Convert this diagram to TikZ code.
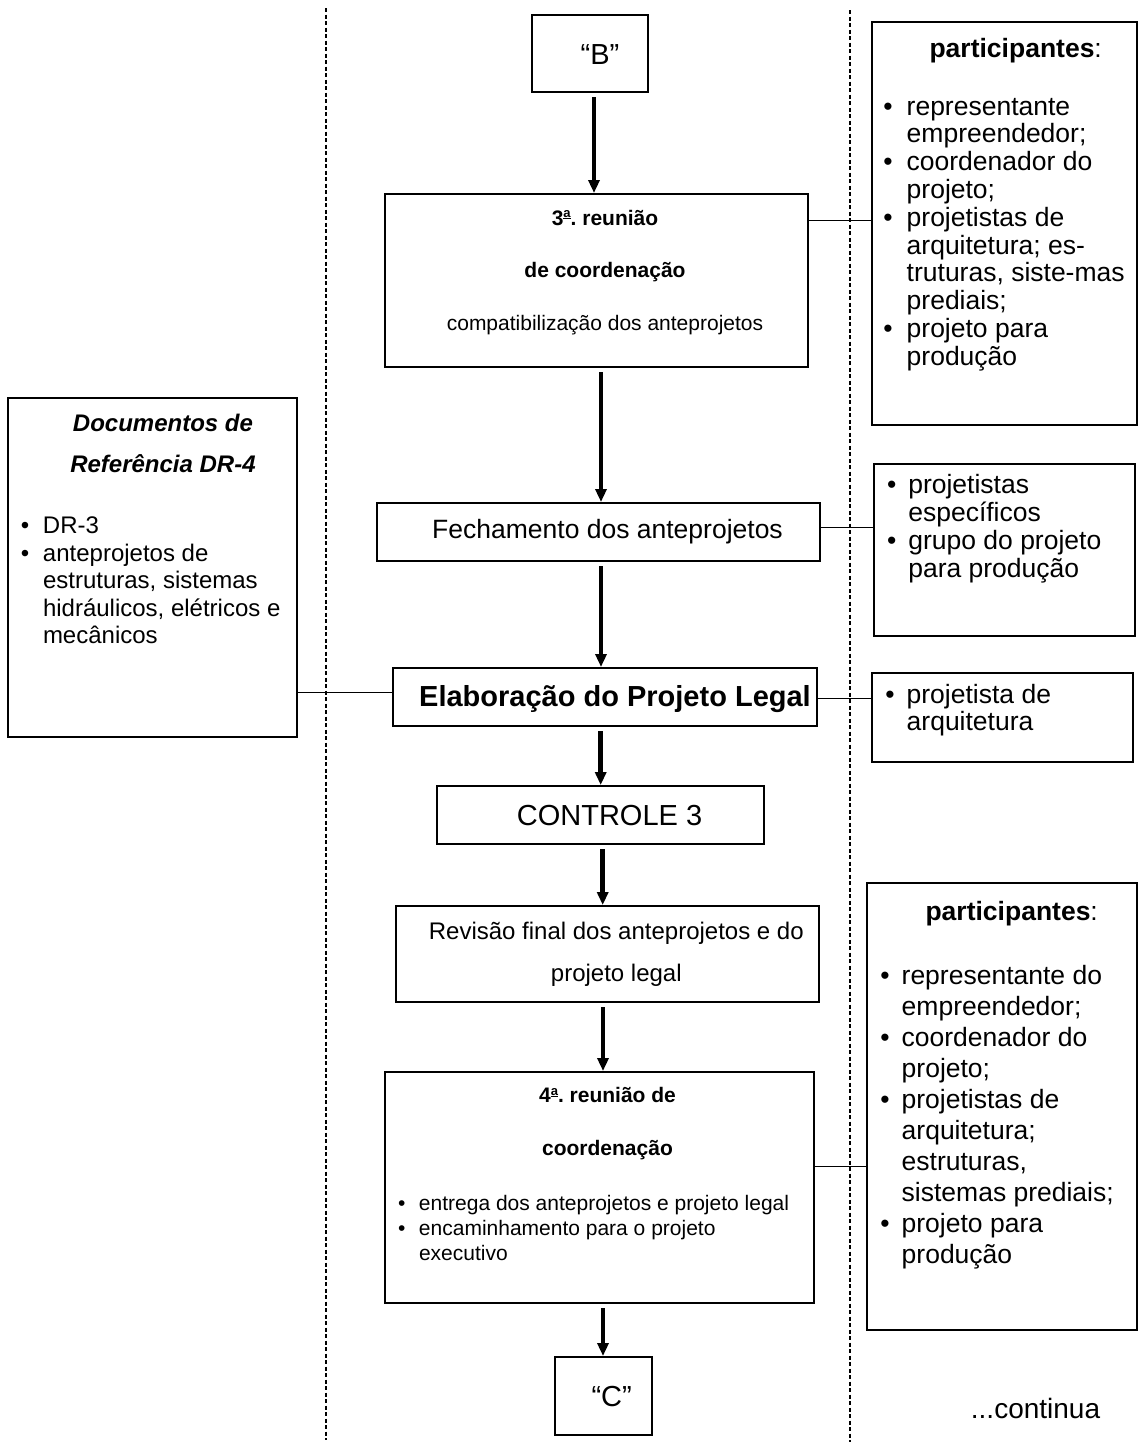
\documentclass[tikz,border=0pt]{standalone}
\usepackage{fontspec}
\usepackage{graphicx}
\setmainfont{Liberation Sans}
\usetikzlibrary{arrows.meta,fit}
\newcommand{\fsz}[2]{\fontsize{#1}{#2}\selectfont}
% raised, underlined ordinal "a"
\newcommand{\ordfem}{\raisebox{0.36em}{\scalebox{0.62}{\underline{a}}}}

\begin{document}
\frenchspacing
\begin{tikzpicture}[x=1pt,y=-1pt,
  box/.style={draw, line width=2pt, inner sep=0pt, rectangle},
  txt/.style={inner sep=0pt, outer sep=0pt},
  flow/.style={line width=4.6pt, -{Triangle[width=11pt,length=13pt]}, shorten <=4pt},
  link/.style={line width=1.5pt},
  guide/.style={line width=1.5pt, dash pattern=on 4pt off 2.5pt}]

\useasboundingbox (0,0) rectangle (1139,1444);

% column separators
\draw[guide] (326,8) -- (326,1440);
\draw[guide] (850,10) -- (850,1442);

% frames
\node[box, fit={(532,15) (648,92)}] (nB) {};
\node[box, fit={(385,194) (808,367)}] (n3) {};
\node[box, fit={(377,503) (820,561)}] (nF) {};
\node[box, fit={(393,668) (817,726)}] (nE) {};
\node[box, fit={(437,786) (764,844)}] (nK) {};
\node[box, fit={(396,906) (819,1002)}] (nR) {};
\node[box, fit={(385,1072) (814,1303)}] (n4) {};
\node[box, fit={(555,1357) (652,1435)}] (nC) {};
\node[box, fit={(8,398) (297,737)}] (dR) {};
\node[box, fit={(872,22) (1137,425)}] (p1) {};
\node[box, fit={(874,464) (1135,636)}] (p2) {};
\node[box, fit={(872,673) (1133,762)}] (p3) {};
\node[box, fit={(867,883) (1137,1330)}] (p4) {};

% central flow texts
\node[txt, anchor=base] (nBt) at (600,64) {\fsz{29}{30}“B”};
\node[txt, anchor=base] (n3t) at (605,225) {\fsz{21}{52.5}\begin{tabular}[t]{@{}c@{}}\textbf{3\ordfem. reunião}\\ \textbf{de coordenação}\\ compatibilização dos anteprojetos\end{tabular}};
\node[txt, anchor=base] (nFt) at (607.5,538) {\fsz{26.5}{28}Fechamento dos anteprojetos};
\node[txt, anchor=base] (nEt) at (615,706) {\fsz{29}{32}\bfseries Elaboração do Projeto Legal};
\node[txt, anchor=base] (nKt) at (609.5,825) {\fsz{29}{32}CONTROLE 3};
\node[txt, anchor=base] (nRt) at (616.3,939) {\fsz{24}{42.7}\begin{tabular}[t]{@{}c@{}}Revisão final dos anteprojetos e do\\ projeto legal\end{tabular}};
\node[txt, anchor=base] (n4t) at (607.5,1102.7) {\fsz{21}{52.3}\bfseries\begin{tabular}[t]{@{}c@{}}4\ordfem. reunião de\\ coordenação\end{tabular}};
\node[txt, anchor=base west] (n4l) at (398,1210) {\fsz{21}{25}\begin{tabular}[t]{@{}p{21pt}@{}l@{}}\textbullet & entrega dos anteprojetos e projeto legal\\ \textbullet & encaminhamento para o projeto\\ & executivo\end{tabular}};
\node[txt, anchor=base] (nCt) at (611.7,1406) {\fsz{29}{30}“C”};

% reference documents
\node[txt, anchor=base] (dRt) at (163,431.7) {\fsz{24}{41}\bfseries\itshape\begin{tabular}[t]{@{}c@{}}Documentos de\\ Referência DR-4\end{tabular}};
\node[txt, anchor=base west] (dRl) at (20.8,533.5) {\fsz{24}{27.5}\begin{tabular}[t]{@{}p{22.2pt}@{}l@{}}\textbullet & DR-3\\ \textbullet & anteprojetos de\\ & estruturas, sistemas\\ & hidráulicos, elétricos e\\ & mecânicos\end{tabular}};

% participants
\node[txt, anchor=base] (p1h) at (1015.7,57) {\fsz{26.5}{28}\textbf{participantes}:};
\node[txt, anchor=base west] (p1l) at (883.4,115) {\fsz{26.5}{27.8}\begin{tabular}[t]{@{}p{23.3pt}@{}l@{}}\textbullet & representante\\ & empreendedor;\\ \textbullet & coordenador do\\ & projeto;\\ \textbullet & projetistas de\\ & arquitetura; es-\\ & truturas, siste-mas\\ & prediais;\\ \textbullet & projeto para\\ & produção\end{tabular}};
\node[txt, anchor=base west] (p2l) at (887,493.3) {\fsz{26.5}{28}\begin{tabular}[t]{@{}p{21.3pt}@{}l@{}}\textbullet & projetistas\\ & específicos\\ \textbullet & grupo do projeto\\ & para produção\end{tabular}};
\node[txt, anchor=base west] (p3l) at (885.4,703.3) {\fsz{26.5}{27}\begin{tabular}[t]{@{}p{21.3pt}@{}l@{}}\textbullet & projetista de\\ & arquitetura\end{tabular}};
\node[txt, anchor=base] (p4h) at (1011.7,920) {\fsz{26.5}{28}\textbf{participantes}:};
\node[txt, anchor=base west] (p4l) at (880.4,984) {\fsz{26.5}{31}\begin{tabular}[t]{@{}p{21.3pt}@{}l@{}}\textbullet & representante do\\ & empreendedor;\\ \textbullet & coordenador do\\ & projeto;\\ \textbullet & projetistas de\\ & arquitetura;\\ & estruturas,\\ & sistemas prediais;\\ \textbullet & projeto para\\ & produção\end{tabular}};

\node[txt, anchor=base] (cont) at (1035.5,1418) {\fsz{28}{30}...continua};

% arrow columns and link levels
\coordinate (ax1) at (594,0);
\coordinate (ax2) at (601,0);
\coordinate (ax3) at (601,0);
\coordinate (ax4) at (600.7,0);
\coordinate (ax5) at (602.7,0);
\coordinate (ax6) at (603,0);
\coordinate (ax7) at (603,0);
\coordinate (cy1) at (0,220.7);
\coordinate (cy2) at (0,527.3);
\coordinate (cy3) at (0,698.3);
\coordinate (cy4) at (0,1166.7);
\coordinate (cy5) at (0,692.7);

% main flow
\draw[flow] (nB.south -| ax1) -- (n3.north -| ax1);
\draw[flow] (n3.south -| ax2) -- (nF.north -| ax2);
\draw[flow] (nF.south -| ax3) -- (nE.north -| ax3);
\draw[flow] (nE.south -| ax4) -- (nK.north -| ax4);
\draw[flow] (nK.south -| ax5) -- (nR.north -| ax5);
\draw[flow] (nR.south -| ax6) -- (n4.north -| ax6);
\draw[flow] (n4.south -| ax7) -- (nC.north -| ax7);

% side links
\draw[link] (n3.east |- cy1) -- (p1.west |- cy1);
\draw[link] (nF.east |- cy2) -- (p2.west |- cy2);
\draw[link] (nE.east |- cy3) -- (p3.west |- cy3);
\draw[link] (n4.east |- cy4) -- (p4.west |- cy4);
\draw[link] (dR.east |- cy5) -- (nE.west |- cy5);
\end{tikzpicture}
\end{document}
